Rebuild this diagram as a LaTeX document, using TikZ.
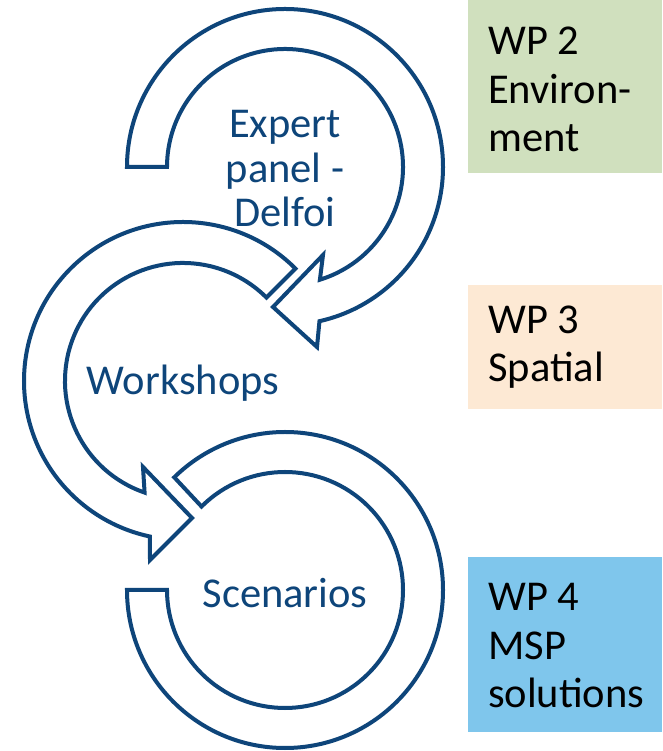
\documentclass[tikz,border=0pt]{standalone}
\usepackage{fontspec}
\setmainfont{Carlito}
\usetikzlibrary{calc}
\definecolor{navy}{RGB}{14,69,122}
\definecolor{wpgreen}{RGB}{208,224,190}
\definecolor{wporange}{RGB}{253,233,212}
\definecolor{wpblue}{RGB}{127,198,236}
\begin{document}
\begin{tikzpicture}[x=1pt,y=1pt,
  band/.style={draw=navy, line width=4pt, fill=white, line join=miter},
  lbl/.style={text=navy, font=\fontsize{42.5}{44.5}\selectfont, inner sep=0pt, align=center},
  wptext/.style={text=black, font=\fontsize{42.5}{48.5}\selectfont, inner sep=0pt, align=left}]
\useasboundingbox (0,0) rectangle (662,751);
\fill[white] (0,0) rectangle (662,751);

% WP boxes
\fill[wpgreen]  (468,578) rectangle (662,751);
\fill[wporange] (468,342) rectangle (662,466);
\fill[wpblue]   (468,19)  rectangle (662,194);

\coordinate (c1) at (285,584);
\coordinate (c2) at (183,370);
\coordinate (c3) at (285,161);

% Workshops arrow
\draw[band] ($(c2)+(45:159pt)$) arc[start angle=45, end angle=258, radius=159pt]
  -- (150,191) -- (192,233) -- (143,284)
  -- ($(c2)+(251:118pt)$) arc[start angle=251, end angle=45, radius=118pt] -- cycle;

% Expert panel arrow
\draw[band] ($(c1)+(180:158pt)$) arc[start angle=180, end angle=-77.4, radius=158pt]
  -- (317,404) -- (273,444) -- (323,496)
  -- ($(c1)+(-72.8:118pt)$) arc[start angle=-72.8, end angle=180, radius=118pt] -- cycle;

% Scenarios block arc
\draw[band] ($(c3)+(180:158pt)$) arc[start angle=180, end angle=494.5, radius=158pt]
  -- ($(c3)+(495:118pt)$) arc[start angle=495, end angle=180, radius=118pt] -- cycle;

% multi-line nodes: base anchor = baseline of last line
\node[lbl, anchor=base] (expert) at (285,524) {Expert\\panel -\\Delfoi};
\node[lbl, anchor=base] (work) at (183,356) {Workshops};
\node[lbl, anchor=base] (scen) at (285,143) {Scenarios};

\node[wptext, anchor=base west] (wp2) at (488,599) {WP 2\\Environ-\\ment};
\node[wptext, anchor=base west] (wp3) at (488,369) {WP 3\\Spatial};
\node[wptext, anchor=base west] (wp4) at (488,43) {WP 4\\MSP\\solutions};
\end{tikzpicture}
\end{document}
